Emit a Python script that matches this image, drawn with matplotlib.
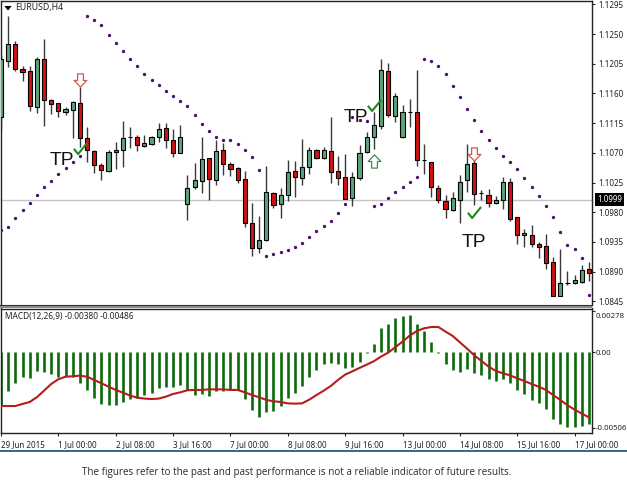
import matplotlib
matplotlib.use("Agg")
import matplotlib.pyplot as plt
from matplotlib.path import Path
from matplotlib.patches import Rectangle
from matplotlib.lines import Line2D
from matplotlib.transforms import ScaledTranslation
import numpy as np

open_ = [1.11248,1.12097,1.12344,1.11971,1.11940,1.11395,1.12117,1.11506,1.11461,1.11319,1.11349,1.11450,1.10930,1.10733,1.10511,1.10425,1.10713,1.10743,1.10935,1.10935,1.10804,1.10834,1.10946,1.11072,1.10895,1.10703,1.09930,1.10178,1.10269,1.10622,1.10289,1.10743,1.10526,1.10471,1.10309,1.09643,1.09259,1.09380,1.10087,1.09925,1.10062,1.10425,1.10319,1.10486,1.10743,1.10627,1.10728,1.10425,1.10334,1.10021,1.10319,1.10708,1.10935,1.11107,1.11935,1.11259,1.10935,1.11324,1.11314,1.10587,1.10567,1.10173,1.09971,1.09829,1.09991,1.10289,1.10541,1.10087,1.10062,1.09935,1.09986,1.10264,1.09723,1.09451,1.09451,1.09319,1.09289,1.09042,1.08532,1.08723,1.08723,1.08749,1.08936]
high = [1.12183,1.12774,1.12400,1.12016,1.12016,1.12157,1.12420,1.11516,1.11461,1.11400,1.11491,1.11693,1.11087,1.10743,1.10541,1.10743,1.10870,1.11188,1.11097,1.10971,1.10971,1.10961,1.11147,1.11158,1.11057,1.11122,1.10365,1.10552,1.10935,1.10622,1.10895,1.10844,1.10567,1.10491,1.10430,1.09946,1.09744,1.10501,1.10112,1.10163,1.10587,1.10582,1.10905,1.10789,1.10759,1.10789,1.11238,1.10653,1.10678,1.10415,1.10814,1.11016,1.11314,1.12117,1.12067,1.11612,1.11425,1.11511,1.11955,1.10829,1.10567,1.10213,1.10062,1.10107,1.10365,1.10829,1.10592,1.10137,1.10148,1.10052,1.10334,1.10314,1.09723,1.09542,1.09607,1.09355,1.09466,1.09127,1.09239,1.08915,1.08855,1.09001,1.09042]
low = [1.11046,1.12006,1.11945,1.11794,1.11334,1.11309,1.11107,1.11289,1.11238,1.11279,1.10930,1.10794,1.10557,1.10400,1.10289,1.10410,1.10451,1.10491,1.10769,1.10733,1.10794,1.10819,1.10870,1.10769,1.10632,1.10693,1.09683,1.10158,1.10087,1.09986,1.10208,1.10370,1.10355,1.10238,1.09582,1.09138,1.09178,1.09370,1.09865,1.09718,1.09976,1.10031,1.10218,1.10380,1.10602,1.10602,1.10249,1.10208,1.09996,1.09895,1.10289,1.10693,1.10764,1.11067,1.11238,1.11173,1.10925,1.11087,1.10506,1.10385,1.10036,1.09935,1.09718,1.09824,1.09643,1.10112,1.09910,1.09986,1.09885,1.09925,1.09845,1.09673,1.09324,1.09269,1.09279,1.09112,1.08936,1.08532,1.08532,1.08698,1.08708,1.08734,1.08764]
close = [1.12117,1.12344,1.11976,1.11920,1.11405,1.12117,1.11506,1.11445,1.11339,1.11370,1.11466,1.10930,1.10743,1.10511,1.10440,1.10708,1.10743,1.10920,1.10935,1.10824,1.10850,1.10935,1.11057,1.10890,1.10703,1.10935,1.10173,1.10284,1.10607,1.10304,1.10728,1.10536,1.10456,1.10289,1.09643,1.09259,1.09375,1.10102,1.09915,1.10062,1.10415,1.10334,1.10481,1.10743,1.10627,1.10743,1.10415,1.10319,1.10006,1.10334,1.10703,1.10946,1.11122,1.11955,1.11274,1.11567,1.11314,1.11324,1.10592,1.10587,1.10188,1.09991,1.09845,1.10011,1.10254,1.10526,1.10077,1.10087,1.09941,1.09986,1.10254,1.09703,1.09451,1.09481,1.09324,1.09274,1.09026,1.08532,1.08734,1.08723,1.08769,1.08920,1.08875]
sar = [1.09537,1.09577,1.09713,1.09834,1.09946,1.10067,1.10178,1.10269,1.10380,1.10471,1.10557,1.10653,
       1.12774,1.12718,1.12637,1.12491,1.12365,1.12243,1.12122,1.12011,1.11900,1.11804,1.11723,1.11632,1.11562,1.11481,1.11410,1.11274,1.11137,1.11031,1.10935,1.10895,1.10895,1.10839,1.10743,1.10637,1.10446,
       1.09143,1.09168,1.09198,1.09223,1.09274,1.09335,1.09425,1.09511,1.09592,1.09673,1.09794,1.09920,
       1.11238,1.11198,1.11178,
       1.09900,1.09930,1.10011,1.10107,1.10178,1.10254,1.10339,
       1.12117,1.12092,1.12011,1.11890,1.11713,1.11546,1.11360,1.11198,1.11031,1.10895,1.10774,1.10653,1.10557,1.10461,1.10324,1.10178,1.10052,1.09900,1.09728,1.09496,1.09304,1.09244,1.09102,1.08547]
macd_hist = [-.00361,-.00258,-.00204,-.00164,-.00175,-.00125,-.00132,-.00146,-.00164,-.00159,-.00168,-.00204,-.00253,-.00309,-.00349,-.00354,-.00356,-.00336,-.00311,-.00305,-.00289,-.00271,-.00242,-.00235,-.00235,-.00217,-.00253,-.00289,-.00278,-.00291,-.00258,-.00258,-.00253,-.00253,-.00314,-.00390,-.00435,-.00403,-.00392,-.00361,-.00309,-.00271,-.00224,-.00164,-.00121,-.00078,-.00074,-.00078,-.00103,-.00101,-.00063,-.00002,.00054,.00161,.00193,.00233,.00246,.00253,.00193,.00143,.00072,-.00007,-.00076,-.00121,-.00132,-.00114,-.00139,-.00155,-.00181,-.00193,-.00181,-.00208,-.00253,-.00282,-.00320,-.00343,-.00383,-.00450,-.00482,-.00500,-.00504,-.00495,-.00482]
macd_signal = [-.00361,-.00361,-.00361,-.00347,-.00334,-.00302,-.00258,-.00213,-.00181,-.00164,-.00161,-.00157,-.00164,-.00186,-.00208,-.00231,-.00253,-.00271,-.00291,-.00305,-.00311,-.00314,-.00311,-.00298,-.00280,-.00269,-.00255,-.00253,-.00253,-.00249,-.00249,-.00249,-.00253,-.00253,-.00269,-.00287,-.00302,-.00320,-.00329,-.00334,-.00343,-.00345,-.00343,-.00318,-.00287,-.00258,-.00226,-.00186,-.00150,-.00128,-.00105,-.00083,-.00060,-.00029,-.00002,.00034,.00072,.00112,.00143,.00161,.00170,.00170,.00139,.00110,.00067,.00025,-.00020,-.00058,-.00096,-.00125,-.00141,-.00155,-.00175,-.00193,-.00213,-.00231,-.00253,-.00287,-.00320,-.00356,-.00385,-.00412,-.00437]
price_ticks = [1.1295,1.1250,1.1205,1.1160,1.1115,1.1070,1.1025,1.0980,1.0935,1.0890,1.0845]
bid_price = 1.0999
macd_ticks = [0.00278,0.0,-0.00506]
macd_tick_labels = ["0.00278","0.00","-0.00506"]
time_bars = [0,8,16,24,32,40,48,56,64,72,80]
time_labels = ["29 Jun 2015","1 Jul 00:00","2 Jul 08:00","3 Jul 16:00","7 Jul 00:00","8 Jul 08:00","9 Jul 16:00","13 Jul 00:00","14 Jul 08:00","15 Jul 16:00","17 Jul 00:00"]
sell_bars, sell_prices = [11,66],[1.11799,1.10688]
buy_bars, buy_prices = [52],[1.10577]
check_bars, check_prices = [11,52,66],[1.10769,1.11420,1.09804]
tp_bars, tp_prices = [8.44,49.5,66],[1.10577,1.11243,1.09335]

W,H = 627,495
plt.rcParams["font.family"] = "Noto Sans"
fig = plt.figure(figsize=(W/100,H/100),dpi=100,facecolor="white")
def axes_px(x0,y0,x1,y1):
    return fig.add_axes([x0/W,1-y1/H,(x1-x0)/W,(y1-y0)/H])
STEP = 7.17
LS = 5.8
INK = "#222222"
ax = axes_px(1,1,592,305)
ax2 = axes_px(1,308.5,592,433)
for a in (ax,ax2):
    a.set_xlim(0,591/STEP)
    a.set_facecolor("white")
    a.yaxis.tick_right()
    for s in a.spines.values():
        s.set_linewidth(1.0); s.set_color(INK)
    a.tick_params(axis="y",length=2.2,width=0.8,color=INK,pad=2.2,labelsize=LS,labelcolor=INK)
ax2.tick_params(axis="y",pad=0.3,labelsize=5.6)
ax.set_ylim(1.13016-0.0000505*915,1.13016-0.0000505*3)
ax.spines["bottom"].set_visible(False)
ax.set_xticks([])
ax.set_yticks(price_ticks)
ax.set_yticklabels([f"{p:.4f}" for p in price_ticks])

bars = np.arange(len(close))
o,h,l,c = map(np.array,(open_,high,low,close))
ax.axhline(bid_price,color="#c4c4c4",lw=1,zorder=1)
ax.vlines(bars,l,h,color="#3a3a3a",lw=1,zorder=2)
colors = ["#5aa67c" if u else "#d01212" for u in c>=o]
ax.bar(bars,np.abs(c-o),bottom=np.minimum(o,c),width=0.58,color=colors,edgecolor="black",lw=0.8,zorder=3)
ax.plot(bars,sar,ls="",marker="o",ms=2.4,mfc="#4b0f6e",mec="#4b0f6e",mew=0,zorder=4)

arrow_down = Path([(-.22,.5),(.22,.5),(.22,0),(.48,0),(0,-.5),(-.48,0),(-.22,0),(-.22,.5)],closed=True)
arrow_up = Path([(-.22,-.5),(.22,-.5),(.22,0),(.48,0),(0,.5),(-.48,0),(-.22,0),(-.22,-.5)],closed=True)
check = Path([(-.5,-.02),(-.18,-.42),(.5,.42)])
ax.plot(sell_bars,sell_prices,ls="",marker=arrow_down,ms=9.5,mfc="white",mec="#cc5a52",mew=0.9,zorder=5)
ax.plot(buy_bars,buy_prices,ls="",marker=arrow_up,ms=9.5,mfc="white",mec="#3d8a55",mew=0.9,zorder=5)
ax.plot(check_bars,check_prices,ls="",marker=check,ms=9.5,mfc="none",mec="#1c8a1c",mew=1.5,zorder=6)
for b,p in zip(tp_bars,tp_prices):
    ax.text(b,p,"TP",ha="center",va="center",family="Liberation Sans",fontsize=13.8,color="#111111",zorder=7)
ax.annotate("1.0999",xy=(1.0,bid_price),xycoords=ax.get_yaxis_transform(),xytext=(3.9,0),textcoords="offset points",
            ha="left",va="center",color="white",fontsize=LS,annotation_clip=False,zorder=8,
            bbox=dict(boxstyle="square,pad=0.25",fc="black",ec="black",lw=0))
ax.text(14/591,1-6.5/304,"EURUSD,H4",transform=ax.transAxes,ha="left",va="center",fontsize=6.3,color=INK)
ax.fill([3.3/591,10.7/591,7/591],[1-5/304,1-5/304,1-9.5/304],transform=ax.transAxes,color="black",lw=0)

SCALE = 0.0000672
ax2.set_ylim(-(433-352.3)*SCALE,(352.3-308.5)*SCALE)
ax2.vlines(bars,0,macd_hist,color="#0b6b0b",lw=1.9,zorder=2)
ax2.plot(bars,macd_signal,color="#b51c1c",lw=1.5,zorder=3,solid_joinstyle="round")
ax2.set_yticks(macd_ticks)
ax2.set_yticklabels(macd_tick_labels)
ax2.set_xticks(time_bars)
ax2.set_xticklabels(time_labels,ha="left")
ax2.tick_params(axis="x",length=2.2,width=0.8,color=INK,pad=2.6,labelsize=LS,labelcolor=INK)
top_label = ax2.get_yticklabels()[0]
top_label.set_transform(top_label.get_transform()+ScaledTranslation(0,-3.2/72,fig.dpi_scale_trans))
ax2.text(4/591,1-8/124.5,"MACD(12,26,9) -0.00380 -0.00486",transform=ax2.transAxes,ha="left",va="center",fontsize=6.0,color=INK)

fig.add_artist(Rectangle((0,1-308.3/H),592/W,3.2/H,transform=fig.transFigure,fc="#8c8c8c",ec="none"))
fig.add_artist(Line2D([0,592/W],[1-305.3/H]*2,color="#333333",lw=0.8))
fig.add_artist(Line2D([0,1],[1-451/H]*2,color="#1f5f85",lw=1.3))
fig.text(296.5/W,1-473/H,"The figures refer to the past and past performance is not a reliable indicator of future results.",
         ha="center",va="center",fontsize=7.1,color="#2b2b2b",family="Open Sans")
fig.savefig("out.png",dpi=100,facecolor="white")
